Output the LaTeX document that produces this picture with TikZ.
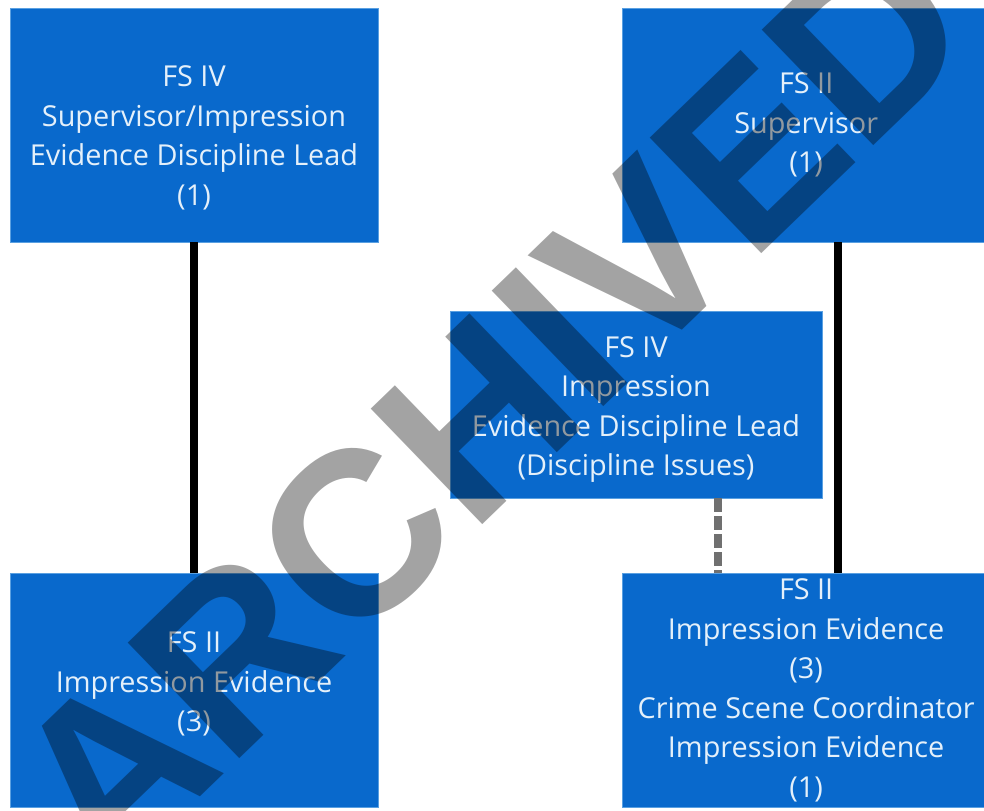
\documentclass[tikz,border=0pt]{standalone}
\usepackage{fontspec}
\setmainfont{Open Sans}
\newfontfamily\markfont{Liberation Sans}
\definecolor{boxblue}{RGB}{9,105,204}
\definecolor{boxedge}{RGB}{90,160,225}
\definecolor{boxtext}{RGB}{228,240,250}
\definecolor{dashgray}{RGB}{112,112,112}
\begin{document}
\begin{tikzpicture}[x=0.025cm, y=0.025cm, node distance=15.3cm,
  block/.style={draw=boxedge, line width=0.6pt, fill=boxblue, text=boxtext, align=center, inner sep=0pt,
    minimum width=9.2cm, minimum height=5.85cm, font=\fontsize{20.5}{28.1}\selectfont}]

  \useasboundingbox (0,0) rectangle (984,810);
  \clip (0,0) rectangle (984,810);

  % Top row
  \node[block] (A1) at (194,685) {\rule{0pt}{33pt}FS IV\\Supervisor/Impression\\Evidence Discipline Lead\\(1)};
  \node[block, right of=A1] (A2) {FS II\\Supervisor\\(1)};

  % Bottom row
  \node[block, below of=A1, node distance=14.125cm] (B1) {FS II\\Impression Evidence\\(3)\rule[-12pt]{0pt}{12pt}};
  \node[block, below of=A2, node distance=14.125cm] (B2) {FS II\\Impression Evidence\\(3)\\Crime Scene Coordinator\\Impression Evidence\\(1)};

  % Middle block
  \node[block, minimum width=9.3cm, minimum height=4.675cm] (M) at (636,405.5) {\rule{0pt}{21.7pt}FS IV\\Impression\\Evidence Discipline Lead\\(Discipline Issues)};

  % Solid links
  \draw[line width=0.2cm] (A1) -- (B1);
  \draw[line width=0.2cm] ([xshift=0.8cm]A2.south) -- ([xshift=0.8cm]B2.north);

  % Dashed link
  \coordinate (Mfoot) at ([xshift=2.05cm]M.south);
  \draw[line width=0.2cm, dashgray, dash pattern=on 0.33cm off 0.12cm] (Mfoot) -- (Mfoot |- B2.north);

  % Watermark
  \node[rotate=44, text=black, text opacity=0.36, inner sep=0pt,
    font=\markfont\bfseries\fontsize{166}{166}\selectfont] (W) at (490,405) {ARCHIVED};

\end{tikzpicture}
\end{document}
